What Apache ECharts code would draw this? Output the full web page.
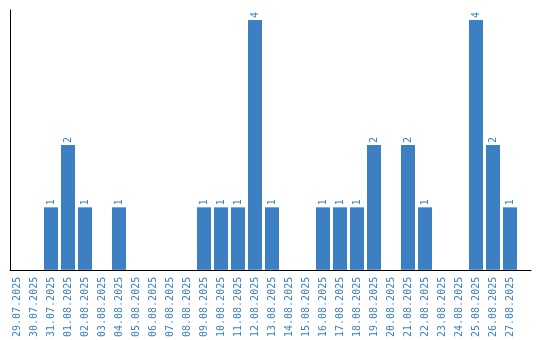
<!DOCTYPE html>
<html>
<head>
<meta charset="utf-8">
<script src="https://cdn.jsdelivr.net/npm/echarts@6/dist/echarts.min.js"></script>
<style>
html,body{margin:0;padding:0;background:#fff;}
#chart{width:540px;height:340px;}
</style>
</head>
<body>
<div id="chart"></div>
<script>
const categories = ["29.07.2025","30.07.2025","31.07.2025","01.08.2025","02.08.2025","03.08.2025","04.08.2025","05.08.2025","06.08.2025","07.08.2025","08.08.2025","09.08.2025","10.08.2025","11.08.2025","12.08.2025","13.08.2025","14.08.2025","15.08.2025","16.08.2025","17.08.2025","18.08.2025","19.08.2025","20.08.2025","21.08.2025","22.08.2025","23.08.2025","24.08.2025","25.08.2025","26.08.2025","27.08.2025"];
const counts = [0,0,1,2,1,0,1,0,0,0,0,1,1,1,4,1,0,0,1,1,1,2,0,2,1,0,0,4,2,1];

const BLUE = '#3c7fc3';
const FONT = 'DejaVu Sans Mono';

const chart = echarts.init(document.getElementById('chart'), null, {renderer: 'canvas'});
chart.setOption({
  animation: false,
  backgroundColor: '#ffffff',
  grid: [
    {left: 8.5, right: 21.5, top: 10, bottom: 70},
    {left: 10, right: 9, top: 10, bottom: 70}
  ],
  xAxis: [
    {
      type: 'category', gridIndex: 0, data: categories,
      axisLine: {show: false}, axisTick: {show: false},
      axisLabel: {rotate: 90, interval: 0, margin: 7, color: BLUE, fontFamily: FONT, fontSize: 10}
    },
    {
      type: 'value', gridIndex: 1, min: 0, max: 1,
      axisLine: {show: true, lineStyle: {color: '#000', width: 1}},
      axisTick: {show: false}, axisLabel: {show: false}, splitLine: {show: false}
    }
  ],
  yAxis: [
    {
      type: 'value', gridIndex: 0, min: 0, max: 4.16,
      axisLine: {show: false}, axisTick: {show: false}, axisLabel: {show: false}, splitLine: {show: false}
    },
    {
      type: 'value', gridIndex: 1, min: 0, max: 1,
      axisLine: {show: true, lineStyle: {color: '#000', width: 1}},
      axisTick: {show: false}, axisLabel: {show: false}, splitLine: {show: false}
    }
  ],
  series: [{
    type: 'bar', xAxisIndex: 0, yAxisIndex: 0,
    data: counts.map(v => v === 0 ? null : v),
    barWidth: 14,
    itemStyle: {color: BLUE},
    label: {
      show: true, position: 'top', rotate: 90, align: 'left', verticalAlign: 'middle',
      distance: 2, color: BLUE, fontFamily: FONT, fontSize: 10
    }
  }]
});
</script>
</body>
</html>
